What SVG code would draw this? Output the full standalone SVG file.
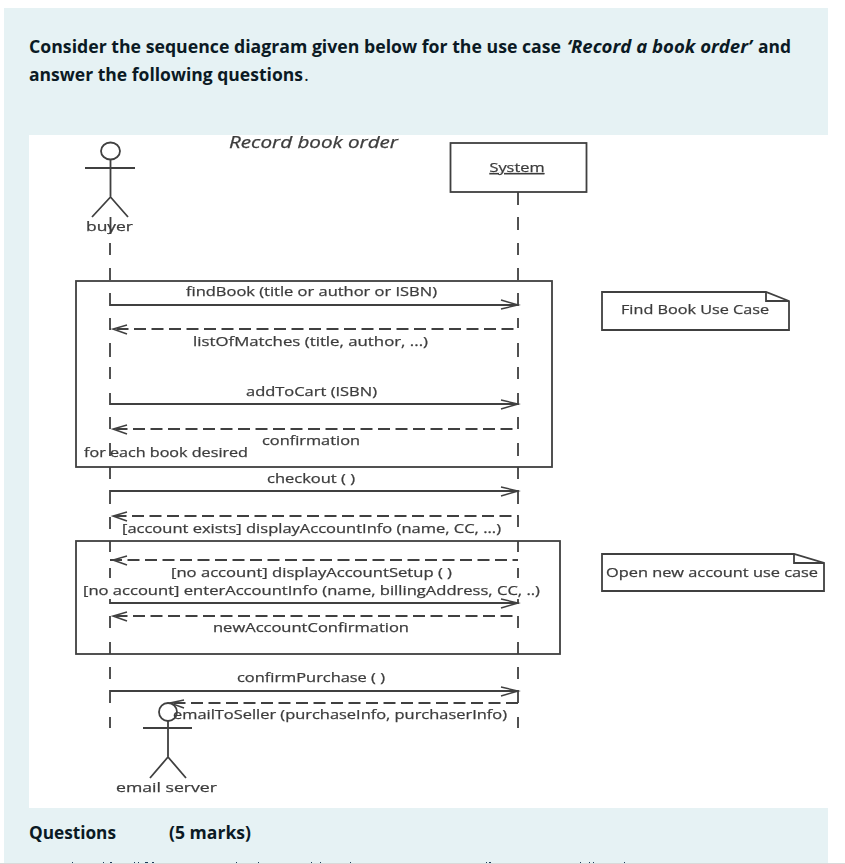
<svg xmlns="http://www.w3.org/2000/svg" width="845" height="864" viewBox="0 0 845 864">
<style>
.q{font-family:"Open Sans","Noto Sans",sans-serif;font-weight:700;font-size:18.5px;fill:#0b1a24}
.t{font-family:"Open Sans","Noto Sans",sans-serif;font-size:13px;fill:#3c3c3c;stroke:#3c3c3c;stroke-width:.25px}
.s{fill:none;stroke:#404040;stroke-width:1.8}
.d{fill:none;stroke:#404040;stroke-width:1.8;stroke-dasharray:12 5.500}
.a{fill:none;stroke:#404040;stroke-width:1.5}
</style>
<defs><filter id="b" x="-2%" y="-2%" width="104%" height="104%"><feGaussianBlur stdDeviation="0.5"/></filter></defs>
<rect width="845" height="864" fill="#fff"/>
<rect x="4" y="8" width="824" height="856" fill="#e6f2f4"/>
<rect x="29" y="135" width="799" height="673" fill="#fff"/>
<text class="q" x="29" y="53" textLength="532" lengthAdjust="spacingAndGlyphs">Consider the sequence diagram given below for the use case</text>
<text class="q" x="567" y="53" font-style="italic" textLength="185" lengthAdjust="spacingAndGlyphs">‘Record a book order’</text>
<text class="q" x="758" y="53" textLength="33" lengthAdjust="spacingAndGlyphs">and</text>
<text class="q" x="29" y="80.500" textLength="274" lengthAdjust="spacingAndGlyphs">answer the following questions</text>
<text class="q" x="304" y="80.500" style="font-weight:400">.</text>
<text class="q" x="29" y="838.500" textLength="87" lengthAdjust="spacingAndGlyphs">Questions</text>
<text class="q" x="169" y="838.500" textLength="82" lengthAdjust="spacingAndGlyphs">(5 marks)</text>
<path d="M0 863.500H845" stroke="#d9d9d9" stroke-width="1"/>
<path d="M72 862.500h1M103 862.500h1M110 862.500h2M134 862.500h1M138 862.500h1M145 862.500h3M152 862.500h2M236 862.500h1M258 862.500h1M311 862.500h1M320 862.500h1M350 862.500h1M486 862.500h1M489 862.500h2M580 862.500h1M589 862.500h1M593 862.500h1M624 862.500h1" stroke="#1c3a5a" stroke-width="1"/>
<g filter="url(#b)">
<g id="connectors">
<path class="s" d="M110 243V255M110 268V280M518 192V205M518 217V230M518 243V255M518 268V280"/>
<path class="s" d="M110 293V305H518V293"/>
<path class="a" d="M501 300L518 305L501 309"/>
<path class="d" d="M110 318V329H518V318"/>
<path class="a" d="M127 325L113 329L127 334"/>
<path class="s" d="M110 343V357M110 367V379M518 343V357M518 367V379"/>
<path class="s" d="M110 393V404H518V393"/>
<path class="a" d="M501 400L518 404L501 409"/>
<path class="d" d="M110 417V429H518V417"/>
<path class="a" d="M127 425L113 429L127 434"/>
<path class="s" d="M110 443V456M518 443V456M110 467V479M518 467V479"/>
<path class="s" d="M110 504V491H518V504"/>
<path class="a" d="M501 487L518 491L501 496"/>
<path class="d" d="M110 529V516H518V529"/>
<path class="a" d="M127 512L113 516L127 521"/>
<path class="s" d="M110 541V552M518 541V552"/>
<path class="d" d="M110 560H518"/>
<path class="a" d="M127 556L113 560L127 565"/>
<path class="s" d="M110 568V578M518 568V578"/>
<path class="s" d="M110 599V603H518V599"/>
<path class="a" d="M501 599L518 603L501 608"/>
<path class="d" d="M110 628V616H518V628"/>
<path class="a" d="M127 612L113 616L127 621"/>
<path class="s" d="M110 642V654M518 642V654M110 667V679M518 667V679"/>
<path class="s" d="M110 703V691H518V703"/>
<path class="a" d="M501 687L518 691L501 696"/>
<path class="d" d="M518 703H173"/>
<path class="a" d="M184 700L170 703L184 708"/>
<path class="s" d="M110 717V728M518 717V728"/>
</g>
<g id="buyer">
<ellipse class="s" cx="110.500" cy="151" rx="9.500" ry="8.500"/>
<path class="s" d="M85 168H135M110.500 160V197M110.500 197L92 217M110.500 197L128 217M110.500 217V234"/>
<text class="t" x="86" y="231" textLength="47" lengthAdjust="spacingAndGlyphs">buyer</text>
</g>
<g id="system">
<rect class="s" x="450.500" y="143" width="136" height="49" fill="#fff"/>
<text class="t" x="489.500" y="172" textLength="55" lengthAdjust="spacingAndGlyphs" text-decoration="underline">System</text>
</g>
<g id="title"><text class="t" x="229" y="148" font-style="italic" style="font-size:15.500px" textLength="169" lengthAdjust="spacingAndGlyphs">Record book order</text></g>
<g id="loop-find-book">
<rect class="s" x="76" y="281" width="476" height="186"/>
<text class="t" x="186" y="296" textLength="251" lengthAdjust="spacingAndGlyphs">findBook (title or author or ISBN)</text>
<text class="t" x="193" y="346" textLength="235" lengthAdjust="spacingAndGlyphs">listOfMatches (title, author, ...)</text>
<text class="t" x="246" y="396" textLength="131" lengthAdjust="spacingAndGlyphs">addToCart (ISBN)</text>
<text class="t" x="262" y="445" textLength="98" lengthAdjust="spacingAndGlyphs">confirmation</text>
<text class="t" x="84" y="457" textLength="164" lengthAdjust="spacingAndGlyphs">for each book desired</text>
</g>
<text class="t" x="267" y="483" textLength="88" lengthAdjust="spacingAndGlyphs">checkout ( )</text>
<text class="t" x="122" y="533" textLength="379" lengthAdjust="spacingAndGlyphs">[account exists] displayAccountInfo (name, CC, ...)</text>
<g id="open-account">
<rect class="s" x="76" y="541" width="484" height="113"/>
<text class="t" x="171" y="577" textLength="281" lengthAdjust="spacingAndGlyphs">[no account] displayAccountSetup ( )</text>
<text class="t" x="83" y="595" textLength="457" lengthAdjust="spacingAndGlyphs">[no account] enterAccountInfo (name, billingAddress, CC, ..)</text>
<text class="t" x="213" y="632" textLength="196" lengthAdjust="spacingAndGlyphs">newAccountConfirmation</text>
</g>
<text class="t" x="237" y="682" textLength="148" lengthAdjust="spacingAndGlyphs">confirmPurchase ( )</text>
<text class="t" x="173" y="719" textLength="334" lengthAdjust="spacingAndGlyphs">emailToSeller (purchaseInfo, purchaserInfo)</text>
<g id="email-server">
<circle class="s" cx="168" cy="712" r="9"/>
<path class="s" d="M143 728H192M168 721V757M168 757L150 778M168 757L186 778"/>
<text class="t" x="116" y="792" textLength="101" lengthAdjust="spacingAndGlyphs">email server</text>
</g>
<g id="note-find">
<path class="s" d="M602 292H766L789 301V330H602ZM766 292V301H789"/>
<text class="t" x="621" y="314" textLength="148" lengthAdjust="spacingAndGlyphs">Find Book Use Case</text>
</g>
<g id="note-open">
<path class="s" d="M602 554H794L824 563V591H602ZM794 554V563H824"/>
<text class="t" x="606" y="577" textLength="212" lengthAdjust="spacingAndGlyphs">Open new account use case</text>
</g>
</g>
</svg>
